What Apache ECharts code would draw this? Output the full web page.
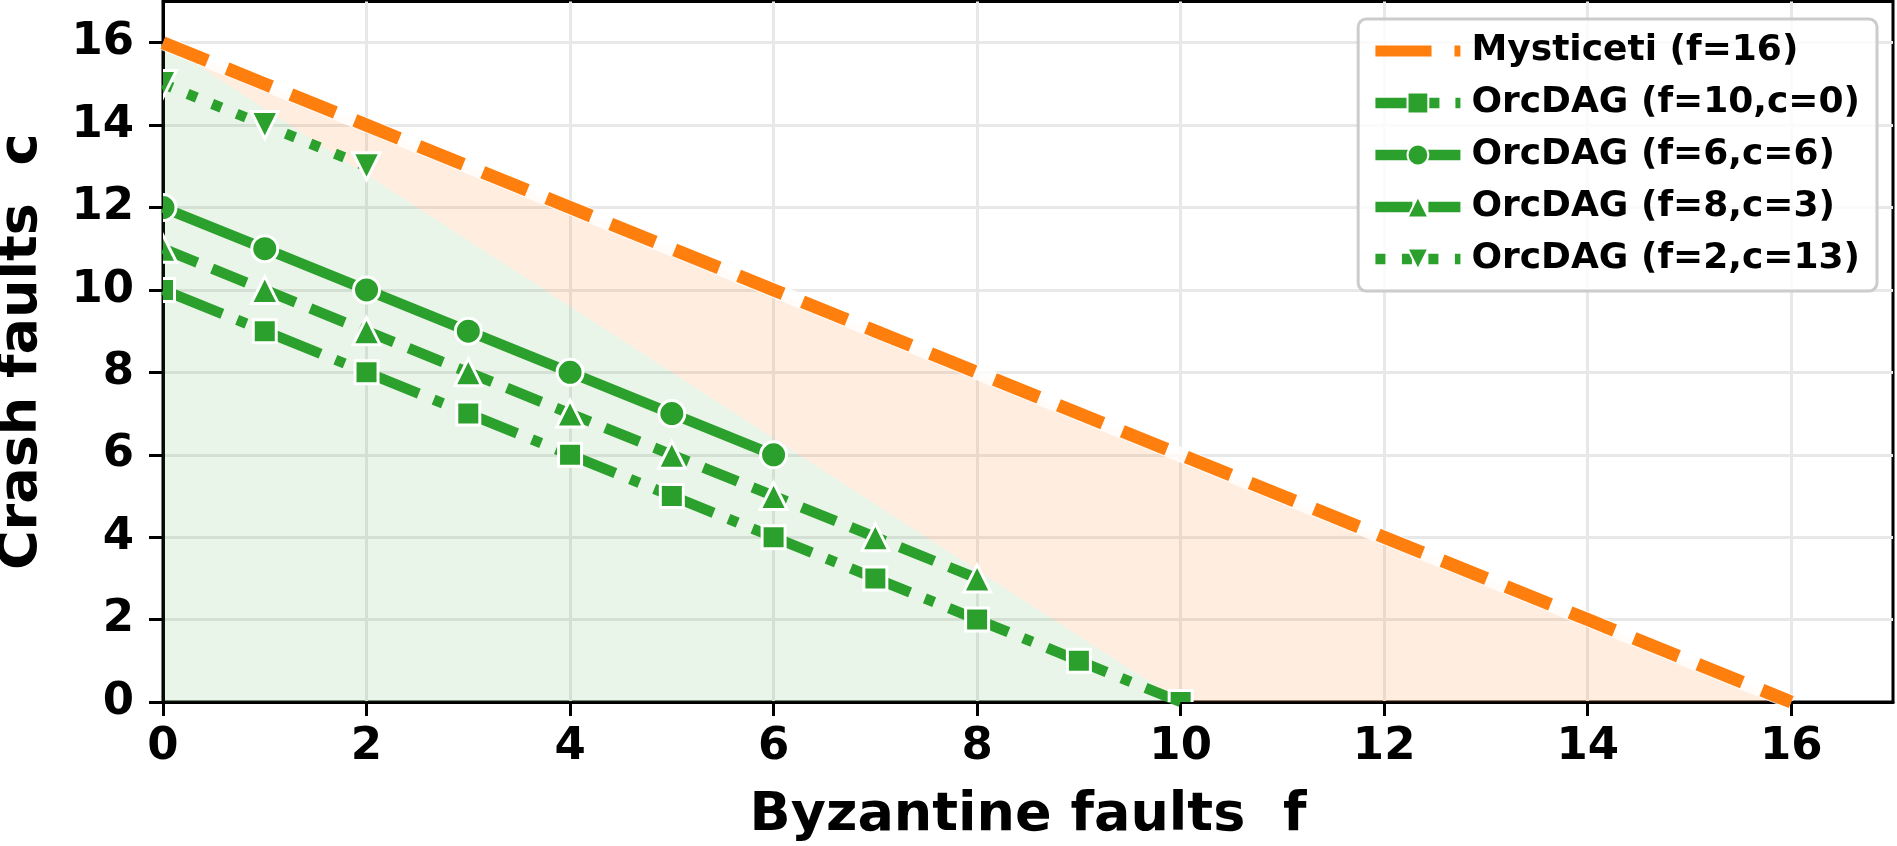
<!DOCTYPE html>
<html>
<head>
<meta charset="utf-8">
<script src="https://cdn.jsdelivr.net/npm/echarts@6/dist/echarts.min.js"></script>
<style>
html, body { margin: 0; padding: 0; background: #fff; }
#chart { width: 1897px; height: 846px; }
</style>
</head>
<body>
<div id="chart"></div>
<script>
// data
var mystF = [0, 1, 2, 3, 4, 5, 6, 7, 8, 9, 10, 11, 12, 13, 14, 15, 16];
var mystC = [16, 15, 14, 13, 12, 11, 10, 9, 8, 7, 6, 5, 4, 3, 2, 1, 0];
var sqF = [0, 1, 2, 3, 4, 5, 6, 7, 8, 9, 10];          // OrcDAG (f=10,c=0)
var sqC = [10, 9, 8, 7, 6, 5, 4, 3, 2, 1, 0];
var circF = [0, 1, 2, 3, 4, 5, 6];                      // OrcDAG (f=6,c=6)
var circC = [12, 11, 10, 9, 8, 7, 6];
var triF = [0, 1, 2, 3, 4, 5, 6, 7, 8];                 // OrcDAG (f=8,c=3)
var triC = [11, 10, 9, 8, 7, 6, 5, 4, 3];
var downF = [0, 1, 2];                                   // OrcDAG (f=2,c=13)
var downC = [15, 14, 13];
var greenRegion = [[0, 0], [0, 16], [10, 0]];
var orangeRegion = [[0, 16], [16, 0], [10, 0]];
var xTicks = [0, 2, 4, 6, 8, 10, 12, 14, 16];
var yTicks = [0, 2, 4, 6, 8, 10, 12, 14, 16];

var ORANGE = '#ff7f0e', GREEN = '#2ca02c';
var FONT = 'DejaVu Sans';

function pairs(xs, ys) {
	return xs.map(function(x, i) { return [x, ys[i]]; });
}

// fills drawn as polygons through the axes
function regionSeries(points, color) {
	return {
		type: 'custom', silent: true, z: 1, clip: true,
		data: [[0, 0]],
		renderItem: function(params, api) {
			return {
				type: 'polygon',
				shape: { points: points.map(function(p) { return api.coord(p); }) },
				style: { fill: color }
			};
		}
	};
}

// markers as custom shapes so they get clipped at the spines like matplotlib
function markerSeries(xs, ys, kind) {
	return {
		type: 'custom', silent: true, z: 4, clip: true,
		data: pairs(xs, ys),
		renderItem: function(params, api) {
			var p = api.coord([api.value(0), api.value(1)]);
			var st = { fill: GREEN, stroke: '#fff', lineWidth: 3 };
			if (kind == 'rect') {
				var s = 23;
				return { type: 'rect', shape: { x: p[0] - s / 2, y: p[1] - s / 2, width: s, height: s }, style: st };
			}
			if (kind == 'circle') {
				return { type: 'circle', shape: { cx: p[0], cy: p[1], r: 13 }, style: st };
			}
			var w = 27, h = 27, d = kind == 'up' ? 1 : -1;
			return {
				type: 'polygon',
				shape: { points: [[p[0], p[1] - d * h / 2], [p[0] - w / 2, p[1] + d * h / 2], [p[0] + w / 2, p[1] + d * h / 2]] },
				style: st
			};
		}
	};
}

function orcLine(name, xs, ys, symbol, dash, rotate) {
	return {
		name: name, type: 'line', z: 3,
		data: pairs(xs, ys),
		symbol: symbol, symbolSize: 23, symbolRotate: rotate || 0, showSymbol: false,
		itemStyle: { color: GREEN, borderColor: '#fff', borderWidth: 3 },
		lineStyle: { color: GREEN, width: 10.5, type: dash },
		silent: true
	};
}

function axisBase(ticks, name, gap) {
	return {
		type: 'value', min: 0, max: 17, interval: 2,
		name: name, nameLocation: 'middle', nameGap: gap,
		nameTextStyle: { fontFamily: FONT, fontWeight: 'bold', fontSize: 54, color: '#000' },
		axisLine: { show: true, onZero: false, lineStyle: { color: '#000', width: 3 } },
		axisTick: { show: true, length: 14, customValues: ticks, lineStyle: { color: '#000', width: 3 } },
		axisLabel: { customValues: ticks, fontFamily: FONT, fontWeight: 'bold', fontSize: 45, color: '#000', margin: 23 },
		splitLine: { show: true, lineStyle: { color: '#e8e8e8', width: 3 } }
	};
}

var chart = echarts.init(document.getElementById('chart'));
var yAxis = axisBase(yTicks, 'Crash faults  c', 114);
yAxis.axisLabel.margin = 29;

chart.setOption({
	animation: false,
	backgroundColor: '#fff',
	grid: {
		left: 163, right: 4, top: 1.5, bottom: 144,
		containLabel: false, outerBoundsMode: 'none',
		show: true, borderColor: '#000', borderWidth: 3
	},
	xAxis: axisBase(xTicks, 'Byzantine faults  f', 87),
	yAxis: yAxis,
	legend: {
		orient: 'vertical', right: 20, top: 19,
		selectedMode: false,
		itemWidth: 85, itemHeight: 26, itemGap: 16,
		padding: [14, 17, 14, 12],
		backgroundColor: 'rgba(255,255,255,0.8)',
		borderColor: '#cccccc', borderWidth: 3, borderRadius: 8,
		lineStyle: { width: 10.5 },
		textStyle: { fontFamily: FONT, fontWeight: 'bold', fontSize: 36, color: '#000', padding: [0, 0, 0, 6] },
		data: [
			{ name: 'Mysticeti (f=16)', icon: 'path://M0,0h0.01v0.01h-0.01z M0,26h0.01v-0.01h-0.01z M0,6.5h66v13h-66z M93,6.5h7v13h-7z' },
			'OrcDAG (f=10,c=0)', 'OrcDAG (f=6,c=6)', 'OrcDAG (f=8,c=3)', 'OrcDAG (f=2,c=13)'
		]
	},
	series: [
		regionSeries(orangeRegion, 'rgba(255,127,14,0.13)'),
		regionSeries(greenRegion, 'rgba(44,160,44,0.11)'),
		{
			type: 'line', z: 2, silent: true, symbol: 'none',
			data: pairs(mystF, mystC),
			lineStyle: { color: '#fff', width: 15, opacity: 0.8 }
		},
		{
			name: 'Mysticeti (f=16)', type: 'line', z: 3, silent: true, symbol: 'none',
			data: pairs(mystF, mystC),
			itemStyle: { color: ORANGE, borderWidth: 0 },
			lineStyle: { color: ORANGE, width: 13, type: [48, 21] }
		},
		orcLine('OrcDAG (f=10,c=0)', sqF, sqC, 'rect', [64, 16, 10, 16]),
		orcLine('OrcDAG (f=6,c=6)', circF, circC, 'circle', 'solid'),
		orcLine('OrcDAG (f=8,c=3)', triF, triC, 'triangle', [37, 16]),
		orcLine('OrcDAG (f=2,c=13)', downF, downC, 'triangle', [10, 16.5], 180),
		markerSeries(sqF, sqC, 'rect'),
		markerSeries(circF, circC, 'circle'),
		markerSeries(triF, triC, 'up'),
		markerSeries(downF, downC, 'down')
	]
});
</script>
</body>
</html>
